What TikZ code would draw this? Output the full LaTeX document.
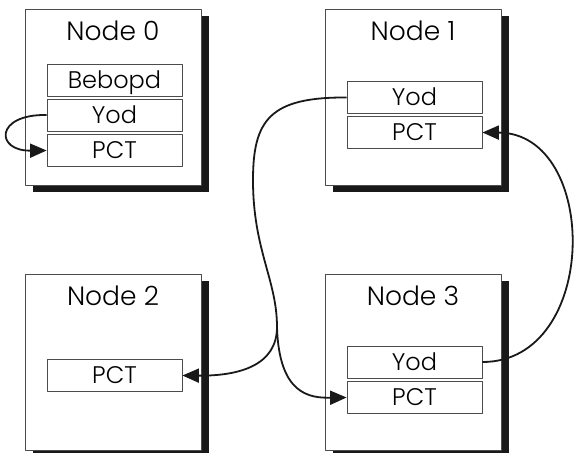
\documentclass[tikz,border=0pt]{standalone}
\usepackage{fontspec}
\setmainfont{Poppins}[UprightFont=* Light]
\usetikzlibrary{arrows.meta,shadows}
\begin{document}
\begin{tikzpicture}[x=1pt, y=-1pt, line join=round, >={Triangle[length=16.5pt,width=14pt]},
	box/.style={draw=black!70, line width=.8pt, fill=white, minimum width=176pt, minimum height=176pt,
		drop shadow={shadow xshift=7.5pt, shadow yshift=-7pt, opacity=1, fill=black!90}},
	field/.style={draw=black!70, line width=.8pt, fill=white, minimum width=135pt, minimum height=32pt,
		inner sep=0pt, text height=16pt, text depth=0pt, font=\fontsize{24}{28}\selectfont},
	title/.style={inner sep=0pt, text height=18pt, text depth=0pt, font=\fontsize{26.5}{31}\selectfont},
	link/.style={line width=1.8pt, black!90}]
	\useasboundingbox (0,0) rectangle (574,453);
	\foreach \i/\x/\y in {0/113/97, 1/413/97, 2/113/362, 3/413/362}{
		\node[box](n\i) at (\x,\y){};
		\node[title](t\i) at ([yshift=-22.5pt]n\i.north){Node \i};
	}
	\node[field](b0) at (114.5,80){Bebopd};
	\node[field](y0) at (114.5,115){Yod};
	\node[field](p0) at (114.5,150.5){PCT};
	\node[field](y1) at (414.5,97.5){Yod};
	\node[field](p1) at (414.5,132.5){PCT};
	\node[field](p2) at (114.5,375.5){PCT};
	\node[field](y3) at (414.5,362){Yod};
	\node[field](p3) at (414.5,397.5){PCT};
	% links
	\coordinate (split) at (277,327);
	\draw[link,->](y0.west)..controls(-5,114)and(-5,151)..(p0.west);
	\draw[link](y1.west)..controls(270,97)and(253,120)..(253,180)..controls(253,250)and(277,280)..(split);
	\draw[link,->](split)..controls(277,365)and(240,376)..(p2.east);
	\draw[link,->](split)..controls(279,395)and(310,398)..(p3.west);
	\draw[link,->](y3.east)..controls(600,362)and(600,133)..(p1.east);
\end{tikzpicture}
\end{document}
